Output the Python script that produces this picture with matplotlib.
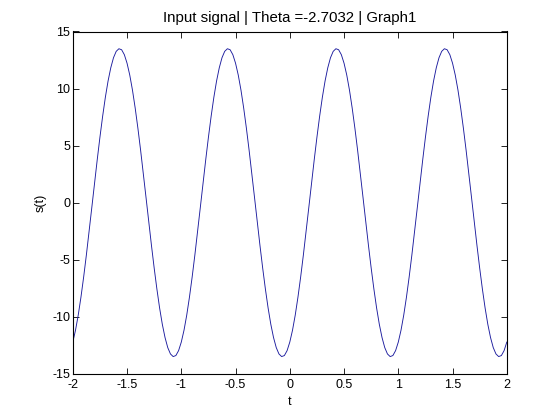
"""Input signal plot (MATLAB-style) for theta = -2.7032."""
import numpy as np
import matplotlib

matplotlib.use("Agg")
import matplotlib.pyplot as plt

THETA = -2.7032

# sampling grid, t in [-2, 2] at step 0.025
t = np.linspace(-2, 2, 161)

# s(t), one row per quarter of a period
s = [
    -12.22, -11.18, -9.86, -8.29, -6.52, -4.59, -2.55, -0.44, 1.67, 3.75,
    5.73, 7.57, 9.23, 10.66, 11.82, 12.70, 13.26, 13.49, 13.40, 12.97,
    12.22, 11.18, 9.86, 8.29, 6.52, 4.59, 2.55, 0.44, -1.67, -3.75,
    -5.73, -7.57, -9.23, -10.66, -11.82, -12.70, -13.26, -13.49, -13.40, -12.97,
    -12.22, -11.18, -9.86, -8.29, -6.52, -4.59, -2.55, -0.44, 1.67, 3.75,
    5.73, 7.57, 9.23, 10.66, 11.82, 12.70, 13.26, 13.49, 13.40, 12.97,
    12.22, 11.18, 9.86, 8.29, 6.52, 4.59, 2.55, 0.44, -1.67, -3.75,
    -5.73, -7.57, -9.23, -10.66, -11.82, -12.70, -13.26, -13.49, -13.40, -12.97,
    -12.22, -11.18, -9.86, -8.29, -6.52, -4.59, -2.55, -0.44, 1.67, 3.75,
    5.73, 7.57, 9.23, 10.66, 11.82, 12.70, 13.26, 13.49, 13.40, 12.97,
    12.22, 11.18, 9.86, 8.29, 6.52, 4.59, 2.55, 0.44, -1.67, -3.75,
    -5.73, -7.57, -9.23, -10.66, -11.82, -12.70, -13.26, -13.49, -13.40, -12.97,
    -12.22, -11.18, -9.86, -8.29, -6.52, -4.59, -2.55, -0.44, 1.67, 3.75,
    5.73, 7.57, 9.23, 10.66, 11.82, 12.70, 13.26, 13.49, 13.40, 12.97,
    12.22, 11.18, 9.86, 8.29, 6.52, 4.59, 2.55, 0.44, -1.67, -3.75,
    -5.73, -7.57, -9.23, -10.66, -11.82, -12.70, -13.26, -13.49, -13.40, -12.97,
    -12.22,
]

x_ticks = [-2, -1.5, -1, -0.5, 0, 0.5, 1, 1.5, 2]
y_ticks = [-15, -10, -5, 0, 5, 10, 15]

plt.rcParams["font.family"] = ["Liberation Sans", "DejaVu Sans"]
plt.rcParams["font.size"] = 9

fig = plt.figure(figsize=(5.6, 4.2), dpi=100)
ax = fig.add_axes([0.13, 0.11, 0.775, 0.815])
ax.plot(t, s, color="#1c1c9e", lw=0.65)

ax.set_xlim(-2, 2)
ax.set_ylim(-15, 15)
ax.set_xticks(x_ticks, [f"{v:g}" for v in x_ticks])
ax.set_yticks(y_ticks, [f"{v:g}" for v in y_ticks])
ax.tick_params(direction="in", length=4, width=0.6, top=True, right=True, pad=2)
ax.tick_params(axis="x", pad=4)
for sp in ax.spines.values():
    sp.set_linewidth(0.8)

ax.set_xlabel("t", labelpad=3)
ax.set_ylabel("s(t)", labelpad=4)
ax.set_title(f"Input signal | Theta ={THETA} | Graph1", pad=7)

fig.savefig("out.png", dpi=100)
